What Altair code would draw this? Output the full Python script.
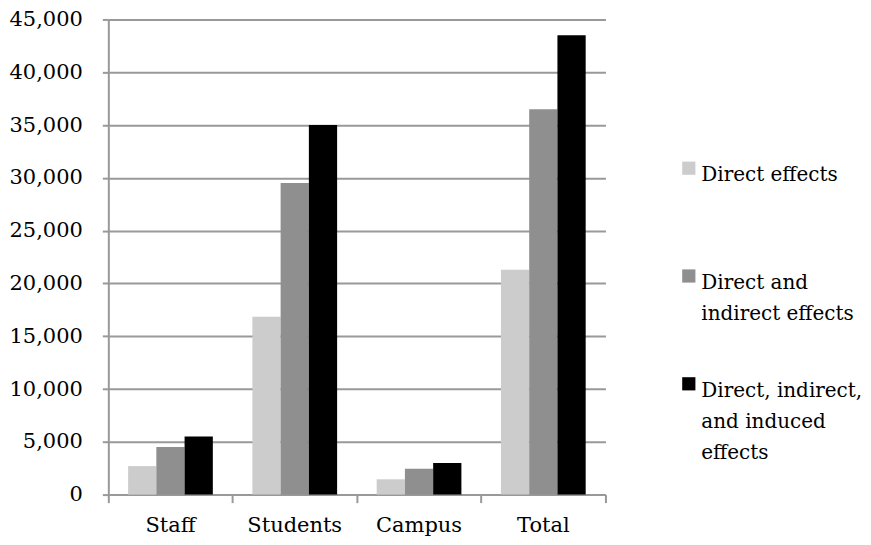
import altair as alt
import pandas as pd

categories = ["Staff", "Students", "Campus", "Total"]
series = ["Direct effects", "Direct and indirect effects", "Direct, indirect, and induced effects"]
legend_labels = ["Direct effects", "Direct and\nindirect effects", "Direct, indirect,\nand induced\neffects"]
colors = ["#cccccc", "#8f8f8f", "#000000"]

direct = [2700, 16850, 1450, 21300]
direct_indirect = [4500, 29500, 2450, 36500]
direct_indirect_induced = [5500, 35000, 3000, 43500]

rows = []
for s, vals in zip(series, [direct, direct_indirect, direct_indirect_induced]):
    for c, v in zip(categories, vals):
        rows.append({"category": c, "series": s, "value": v})
df = pd.DataFrame(rows)

leg = pd.DataFrame({"series": series, "label": legend_labels})

FONT = "DejaVu Serif"
FS = 21
GRAY = "#999999"

color_scale = alt.Scale(domain=series, range=colors)

bars = alt.Chart(df).mark_bar().encode(
    x=alt.X(
        "category:N",
        sort=categories,
        scale=alt.Scale(paddingInner=0, paddingOuter=0),
        axis=alt.Axis(
            title=None, labelAngle=0, bandPosition=1, tickExtra=True,
            tickSize=8, tickWidth=2, tickColor=GRAY,
            domainColor=GRAY, domainWidth=2,
            labelFont=FONT, labelFontSize=FS, labelColor="black", labelPadding=12,
            grid=False,
        ),
    ),
    xOffset=alt.XOffset("series:N", sort=series, scale=alt.Scale(paddingInner=0, paddingOuter=0.7)),
    y=alt.Y(
        "value:Q",
        scale=alt.Scale(domain=[0, 45000], nice=False),
        axis=alt.Axis(
            title=None, values=list(range(0, 45001, 5000)), format=",.0f",
            grid=True, gridColor=GRAY, gridWidth=2,
            tickSize=6, tickWidth=2, tickColor=GRAY,
            domainColor=GRAY, domainWidth=2,
            labelFont=FONT, labelFontSize=FS, labelColor="black", labelPadding=20,
        ),
    ),
    color=alt.Color("series:N", scale=color_scale, legend=None),
).properties(width=498, height=476)

yleg = alt.Y("series:N", sort=series, axis=None,
             scale=alt.Scale(type="point", padding=0, range=[149, 365]))

sq = alt.Chart(leg).mark_square(size=175, opacity=1).encode(
    y=yleg,
    x=alt.value(7.5),
    color=alt.Color("series:N", scale=color_scale, legend=None),
)
txt = alt.Chart(leg).mark_text(
    align="left", baseline="alphabetic", dy=13, font=FONT, fontSize=20,
    lineBreak="\n", lineHeight=31, color="black",
).encode(
    y=yleg,
    x=alt.value(20),
    text="label:N",
)
legend = alt.layer(sq, txt).properties(width=140, height=476)

chart = alt.hconcat(bars, legend, spacing=75).configure_view(stroke=None).properties(
    padding={"left": 0.5, "top": 0, "right": 0, "bottom": 0}
)

chart.save("out.html", embed_options={"renderer": "svg", "actions": False})
